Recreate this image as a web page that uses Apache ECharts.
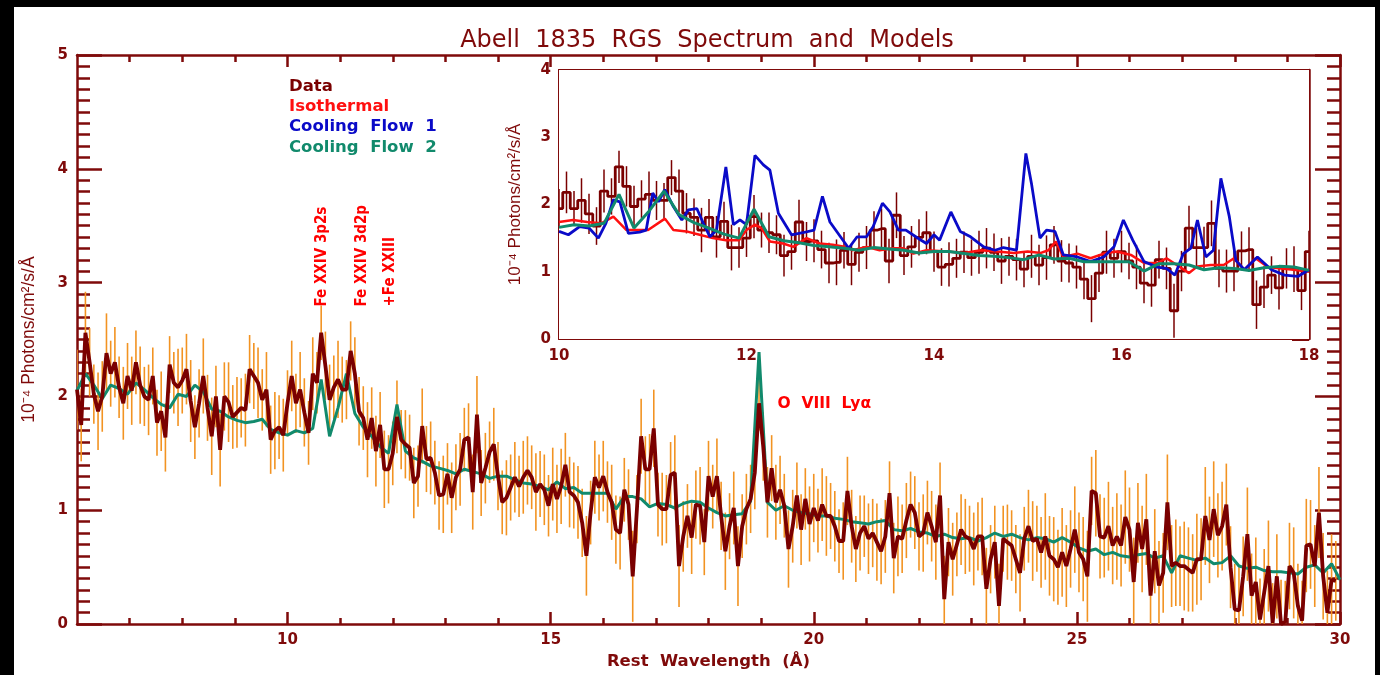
<!DOCTYPE html>
<html>
<head>
<meta charset="utf-8">
<title>Abell 1835 RGS Spectrum and Models</title>
<script src="https://cdn.jsdelivr.net/npm/echarts@6.0.0/dist/echarts.min.js"></script>
<style>
  html, body { margin: 0; padding: 0; background: #000; }
  #sheet { position: absolute; left: 14px; top: 7px; width: 1361px; height: 668px; background: #fff; }
  #chart { position: absolute; left: 0; top: 0; width: 1380px; height: 675px; }
</style>
</head>
<body>
<div id="sheet"></div>
<div id="chart"></div>
<script>
// ---- Spectrum bins (rest wavelength grid, Angstrom) ----
const binStart = 6.0;
const binWidth = 0.08;

// Observed flux per bin, 10^-4 photons/cm^2/s/A
const fluxData = [
  2.06, 1.75, 2.56, 2.30, 2.02, 1.87, 2.00, 2.38, 2.20, 2.30,
  2.08, 1.94, 2.18, 2.05, 2.30, 2.10, 2.00, 1.97, 2.18, 1.77,
  1.87, 1.64, 2.28, 2.12, 2.08, 2.14, 2.24, 1.96, 1.73, 1.94,
  2.18, 1.90, 1.65, 2.00, 1.53, 2.00, 1.95, 1.82, 1.86, 1.90,
  1.88, 2.24, 2.18, 2.12, 1.97, 2.06, 1.62, 1.70, 1.73, 1.66,
  1.94, 2.18, 1.94, 2.06, 1.86, 1.68, 2.20, 2.12, 2.56, 2.27,
  1.97, 2.08, 2.15, 2.06, 2.06, 2.40, 2.20, 1.87, 1.81, 1.62,
  1.81, 1.52, 1.75, 1.36, 1.36, 1.50, 1.82, 1.62, 1.58, 1.55,
  1.24, 1.30, 1.74, 1.45, 1.46, 1.33, 1.13, 1.14, 1.32, 1.11,
  1.29, 1.36, 1.62, 1.64, 1.16, 1.84, 1.24, 1.37, 1.51, 1.58,
  1.30, 1.07, 1.11, 1.20, 1.29, 1.21, 1.29, 1.35, 1.29, 1.16,
  1.23, 1.18, 1.04, 1.23, 1.10, 1.21, 1.40, 1.16, 1.13, 1.07,
  0.89, 0.60, 0.98, 1.29, 1.20, 1.30, 1.16, 1.07, 0.83, 0.80,
  1.18, 1.05, 0.42, 1.01, 1.65, 1.36, 1.36, 1.72, 1.05, 1.01,
  1.01, 1.31, 1.33, 0.51, 0.77, 0.95, 0.76, 1.05, 1.04, 0.72,
  1.30, 1.12, 1.30, 0.95, 0.64, 0.86, 1.02, 0.51, 0.86, 1.01,
  1.10, 1.33, 1.94, 1.56, 1.07, 1.37, 1.07, 1.18, 1.04, 0.66,
  0.86, 1.13, 0.83, 1.10, 0.88, 1.02, 0.91, 1.05, 0.95, 0.95,
  0.86, 0.73, 0.73, 1.17, 0.86, 0.66, 0.80, 0.86, 0.75, 0.80,
  0.72, 0.64, 0.77, 1.15, 0.58, 0.77, 0.75, 0.91, 1.05, 0.98,
  0.77, 0.80, 0.98, 0.86, 0.72, 1.13, 0.22, 0.72, 0.57, 0.70,
  0.83, 0.77, 0.75, 0.66, 0.77, 0.77, 0.31, 0.57, 0.72, 0.16,
  0.75, 0.72, 0.69, 0.57, 0.45, 0.75, 0.86, 0.73, 0.75, 0.63,
  0.77, 0.60, 0.57, 0.50, 0.63, 0.51, 0.66, 0.83, 0.63, 0.57,
  0.42, 1.17, 1.15, 0.77, 0.76, 0.86, 0.69, 0.77, 0.69, 0.94,
  0.83, 0.37, 0.89, 0.66, 0.92, 0.25, 0.64, 0.34, 0.45, 1.07,
  0.51, 0.54, 0.51, 0.51, 0.48, 0.45, 0.57, 0.57, 0.95, 0.74,
  1.01, 0.78, 0.86, 1.05, 0.50, 0.13, 0.12, 0.42, 0.79, 0.25,
  0.37, 0.04, 0.28, 0.51, 0.01, 0.42, 0.00, 0.02, 0.51, 0.45,
  0.16, 0.03, 0.69, 0.70, 0.51, 0.98, 0.42, 0.10, 0.39, 0.38
];

// 1-sigma uncertainty per bin
const fluxErr = [
  0.35, 0.32, 0.36, 0.30, 0.26, 0.34, 0.31, 0.35, 0.29, 0.31,
  0.27, 0.32, 0.29, 0.30, 0.28, 0.34, 0.26, 0.31, 0.25, 0.29,
  0.35, 0.30, 0.25, 0.27, 0.34, 0.29, 0.31, 0.36, 0.28, 0.30,
  0.33, 0.29, 0.34, 0.27, 0.32, 0.30, 0.35, 0.28, 0.31, 0.26,
  0.32, 0.30, 0.29, 0.31, 0.27, 0.33, 0.30, 0.34, 0.28, 0.32,
  0.29, 0.31, 0.26, 0.33, 0.30, 0.28, 0.32, 0.27, 0.24, 0.30,
  0.31, 0.28, 0.34, 0.29, 0.26, 0.26, 0.32, 0.30, 0.28, 0.33,
  0.27, 0.31, 0.29, 0.34, 0.30, 0.28, 0.32, 0.26, 0.30, 0.29,
  0.31, 0.27, 0.33, 0.29, 0.32, 0.28, 0.30, 0.34, 0.27, 0.31,
  0.29, 0.32, 0.28, 0.30, 0.33, 0.34, 0.29, 0.31, 0.27, 0.32,
  0.30, 0.28, 0.33, 0.29, 0.31, 0.27, 0.32, 0.30, 0.28, 0.34,
  0.29, 0.31, 0.27, 0.32, 0.30, 0.33, 0.28, 0.31, 0.29, 0.32,
  0.30, 0.35, 0.28, 0.32, 0.29, 0.31, 0.27, 0.33, 0.30, 0.32,
  0.28, 0.31, 0.40, 0.30, 0.33, 0.29, 0.31, 0.34, 0.28, 0.32,
  0.30, 0.29, 0.33, 0.36, 0.31, 0.28, 0.32, 0.30, 0.34, 0.29,
  0.31, 0.28, 0.33, 0.30, 0.34, 0.29, 0.32, 0.35, 0.28, 0.31,
  0.30, 0.32, 0.24, 0.30, 0.31, 0.29, 0.33, 0.30, 0.28, 0.34,
  0.32, 0.29, 0.31, 0.27, 0.33, 0.30, 0.28, 0.32, 0.35, 0.29,
  0.31, 0.28, 0.34, 0.30, 0.32, 0.29, 0.33, 0.27, 0.31, 0.30,
  0.34, 0.29, 0.32, 0.28, 0.31, 0.35, 0.30, 0.33, 0.29, 0.32,
  0.30, 0.34, 0.28, 0.31, 0.33, 0.29, 0.38, 0.30, 0.32, 0.28,
  0.31, 0.33, 0.29, 0.32, 0.30, 0.34, 0.36, 0.30, 0.32, 0.37,
  0.29, 0.33, 0.31, 0.30, 0.34, 0.28, 0.32, 0.35, 0.29, 0.31,
  0.38, 0.35, 0.37, 0.33, 0.39, 0.36, 0.34, 0.38, 0.35, 0.37,
  0.40, 0.30, 0.38, 0.37, 0.35, 0.39, 0.34, 0.38, 0.36, 0.41,
  0.37, 0.39, 0.35, 0.38, 0.40, 0.36, 0.37, 0.39, 0.35, 0.42,
  0.36, 0.38, 0.35, 0.39, 0.37, 0.34, 0.40, 0.36, 0.43, 0.38,
  0.42, 0.37, 0.39, 0.36, 0.36, 0.40, 0.38, 0.35, 0.41, 0.37,
  0.39, 0.36, 0.38, 0.40, 0.35, 0.37, 0.39, 0.36, 0.38, 0.40,
  0.37, 0.35, 0.41, 0.39, 0.36, 0.40, 0.38, 0.37, 0.40, 0.35
];

// ---- Cooling Flow 2 model, sampled every 0.16 A from 6 A ----
const cf2Start = 6.0;
const cf2Step = 0.16;
const cf2Flux = [
  2.05, 2.20, 2.10, 1.98, 2.10, 2.07, 2.02, 2.12, 2.06, 1.99,
  1.93, 1.90, 2.02, 2.00, 2.10, 2.04, 1.89, 1.87, 1.82, 1.79,
  1.77, 1.78, 1.80, 1.71, 1.68, 1.66, 1.70, 1.68, 1.72, 2.15,
  1.65, 1.90, 2.20, 1.85, 1.73, 1.65, 1.56, 1.50, 1.93, 1.52,
  1.46, 1.43, 1.39, 1.37, 1.35, 1.32, 1.36, 1.34, 1.32, 1.28,
  1.30, 1.30, 1.27, 1.24, 1.23, 1.21, 1.18, 1.25, 1.19, 1.20,
  1.15, 1.15, 1.15, 1.15, 1.01, 1.12, 1.12, 1.10, 1.03, 1.06,
  1.05, 1.02, 1.06, 1.08, 1.07, 1.02, 0.98, 0.95, 0.96, 0.97,
  1.08, 2.39, 1.07, 1.00, 1.04, 1.00, 0.98, 0.97, 0.95, 0.95,
  0.93, 0.92, 0.90, 0.89, 0.88, 0.90, 0.91, 0.83, 0.82, 0.84,
  0.81, 0.80, 0.77, 0.79, 0.76, 0.75, 0.76, 0.73, 0.76, 0.80,
  0.77, 0.79, 0.76, 0.74, 0.76, 0.75, 0.72, 0.76, 0.72, 0.67,
  0.64, 0.66, 0.61, 0.63, 0.60, 0.59, 0.61, 0.62, 0.58, 0.60,
  0.45, 0.60, 0.58, 0.56, 0.58, 0.53, 0.54, 0.60, 0.51, 0.49,
  0.50, 0.47, 0.46, 0.46, 0.45, 0.44, 0.50, 0.52, 0.45, 0.53,
  0.39
];

// ---- Isothermal model (10-18 A) ----
const isoWave = [
  10.00, 10.15, 10.30, 10.45, 10.58, 10.72, 10.85, 10.95, 11.13, 11.22,
  11.36, 11.50, 11.64, 11.78, 11.92, 12.00, 12.09, 12.16, 12.25, 12.39,
  12.50, 12.64, 12.78, 12.92, 13.06, 13.13, 13.28, 13.42, 13.56, 13.67,
  13.78, 13.92, 14.14, 14.32, 14.50, 14.67, 14.85, 15.00, 15.14, 15.22,
  15.30, 15.38, 15.53, 15.67, 15.81, 15.95, 16.10, 16.24, 16.38, 16.48,
  16.59, 16.72, 16.81, 16.95, 17.09, 17.20, 17.31, 17.43, 17.56, 17.70,
  17.84, 18.00
];
const isoFlux = [
  1.74, 1.77, 1.74, 1.72, 1.82, 1.62, 1.62, 1.62, 1.79, 1.62,
  1.60, 1.55, 1.50, 1.47, 1.47, 1.62, 1.70, 1.65, 1.45, 1.42,
  1.37, 1.50, 1.42, 1.40, 1.37, 1.32, 1.37, 1.32, 1.35, 1.35,
  1.27, 1.32, 1.30, 1.28, 1.32, 1.30, 1.28, 1.30, 1.28, 1.32,
  1.45, 1.22, 1.27, 1.20, 1.27, 1.30, 1.25, 1.13, 1.13, 1.20,
  1.10, 0.98, 1.08, 1.10, 1.10, 1.20, 1.03, 1.20, 1.07, 1.05,
  1.03, 1.00
];

// ---- Cooling Flow 1 model (10-18 A) ----
const cf1Wave = [
  10.00, 10.10, 10.22, 10.32, 10.42, 10.50, 10.58, 10.65, 10.74, 10.86,
  10.93, 11.00, 11.06, 11.13, 11.22, 11.31, 11.38, 11.47, 11.54, 11.61,
  11.68, 11.78, 11.86, 11.93, 12.00, 12.09, 12.18, 12.25, 12.34, 12.48,
  12.60, 12.72, 12.81, 12.89, 13.09, 13.18, 13.28, 13.35, 13.45, 13.53,
  13.62, 13.70, 13.85, 13.92, 14.00, 14.06, 14.18, 14.28, 14.39, 14.53,
  14.65, 14.74, 14.88, 14.98, 15.04, 15.13, 15.20, 15.29, 15.38, 15.53,
  15.67, 15.81, 15.92, 16.02, 16.12, 16.24, 16.38, 16.48, 16.57, 16.66,
  16.74, 16.81, 16.90, 16.98, 17.06, 17.15, 17.22, 17.31, 17.45, 17.60,
  17.74, 17.88, 18.00
];
const cf1Flux = [
  1.60, 1.55, 1.67, 1.65, 1.50, 1.72, 2.07, 2.04, 1.57, 1.59,
  1.62, 2.17, 2.04, 2.22, 1.97, 1.77, 1.92, 1.94, 1.72, 1.52,
  1.62, 2.56, 1.70, 1.77, 1.70, 2.73, 2.59, 2.51, 1.87, 1.55,
  1.58, 1.62, 2.12, 1.74, 1.35, 1.52, 1.52, 1.67, 2.02, 1.89,
  1.62, 1.62, 1.48, 1.42, 1.55, 1.47, 1.89, 1.60, 1.52, 1.37,
  1.32, 1.36, 1.32, 2.76, 2.31, 1.50, 1.62, 1.60, 1.25, 1.22,
  1.15, 1.22, 1.37, 1.77, 1.47, 1.15, 1.07, 1.05, 0.95, 1.27,
  1.35, 1.77, 1.22, 1.32, 2.39, 1.82, 1.17, 1.03, 1.22, 1.03,
  0.95, 0.93, 1.03
];

// ---- Axis ticks and labels ----
const mainXMajor = [10, 15, 20, 25, 30];
const mainXMinor = [7, 8, 9, 11, 12, 13, 14, 16, 17, 18, 19, 21, 22, 23, 24, 26, 27, 28, 29];
const insetXRange = [10, 18];

// ---- Line identifications ----
const lineNotes = ['Fe XXIV 3p2s', 'Fe XXIV 3d2p', '+Fe XXIII'];
const lineNoteWave = [10.66, 11.42, 11.95];
const lineNoteFlux = [2.79, 2.79, 2.79];
const oxygenNote = 'O  VIII  Ly\u03b1';
const oxygenWave = 19.31;
const oxygenFlux = 1.93;

const MAROON = '#7f0a0a';
const DATA_C = '#7a0000';
const ISO_C = '#ff1010';
const CF1_C = '#0a0ac8';
const CF2_C = '#118a6c';
const ERR_C = '#f29322';
const NOTE_C = '#ff0000';
const FONT = 'DejaVu Sans';
const YNAME = '10\u207b\u2074 Photons/cm\u00b2/s/\u00c5';

const wave = fluxData.map((_, i) => +(binStart + i * binWidth).toFixed(2));
const dataPts = wave.map((w, i) => [w, fluxData[i]]);
const errPts = wave.map((w, i) => [w, fluxData[i] - fluxErr[i], fluxData[i] + fluxErr[i]]);
const cf2Pts = cf2Flux.map((v, k) => [+(cf2Start + k * cf2Step).toFixed(2), v]);
const inInset = p => p[0] >= insetXRange[0] - 1e-6 && p[0] <= insetXRange[1] + 1e-6;

function errorBars(color, width) {
  return function (params, api) {
    const a = api.coord([api.value(0), api.value(1)]);
    const b = api.coord([api.value(0), api.value(2)]);
    return {
      type: 'line',
      shape: { x1: a[0], y1: a[1], x2: b[0], y2: b[1] },
      style: { stroke: color, lineWidth: width }
    };
  };
}

const tickStyle = w => ({ color: MAROON, width: w });
const hiddenLabel = { show: false };

const chart = echarts.init(document.getElementById('chart'), null, { renderer: 'canvas' });

chart.setOption({
  animation: false,
  backgroundColor: 'transparent',
  graphic: [{
    type: 'text', x: 707, y: 41, silent: true,
    style: {
      text: 'Abell  1835  RGS  Spectrum  and  Models',
      fill: MAROON, font: '24px "DejaVu Sans"',
      textAlign: 'center', textVerticalAlign: 'middle', align: 'center', verticalAlign: 'middle'
    }
  }],
  legend: {
    left: 279, top: 73, orient: 'vertical', icon: 'none', itemWidth: 0, itemHeight: 14, itemGap: 3.3,
    selectedMode: false,
    formatter: n => n.replace(/ /g, '  '),
    textStyle: { fontFamily: FONT, fontSize: 16.5, fontWeight: 'bold' },
    data: [
      { name: 'Data', textStyle: { color: DATA_C } },
      { name: 'Isothermal', textStyle: { color: ISO_C } },
      { name: 'Cooling Flow 1', textStyle: { color: CF1_C } },
      { name: 'Cooling Flow 2', textStyle: { color: CF2_C } }
    ]
  },
  grid: [
    { left: 77, top: 55, width: 1263, height: 570, show: false },
    { left: 559, top: 70, width: 750, height: 269, show: true, backgroundColor: '#fff', borderWidth: 0, z: 5 }
  ],
  xAxis: [
    { // 0: main bottom, major ticks + labels
      gridIndex: 0, type: 'value', position: 'bottom', min: 6, max: 30,
      axisLine: { show: true, onZero: false, lineStyle: { color: MAROON, width: 2.5 } },
      axisTick: { show: true, inside: true, length: 12, customValues: mainXMajor, lineStyle: tickStyle(2.5) },
      axisLabel: { show: true, customValues: mainXMajor, color: MAROON, fontFamily: FONT, fontWeight: 'bold', fontSize: 15, margin: 9 },
      splitLine: { show: false },
      name: 'Rest  Wavelength  (\u00c5)', nameLocation: 'middle', nameGap: 26,
      nameTextStyle: { color: MAROON, fontFamily: FONT, fontWeight: 'bold', fontSize: 16.5 }
    },
    { // 1: main bottom, minor ticks
      gridIndex: 0, type: 'value', position: 'bottom', min: 6, max: 30,
      axisLine: { show: false, onZero: false },
      axisTick: { show: true, inside: true, length: 6, customValues: mainXMinor, lineStyle: tickStyle(2.5) },
      axisLabel: hiddenLabel, splitLine: { show: false }
    },
    { // 2: main top, major ticks
      gridIndex: 0, type: 'value', position: 'top', min: 6, max: 30,
      axisLine: { show: true, onZero: false, lineStyle: { color: MAROON, width: 2.5 } },
      axisTick: { show: true, inside: true, length: 12, customValues: mainXMajor, lineStyle: tickStyle(2.5) },
      axisLabel: hiddenLabel, splitLine: { show: false }
    },
    { // 3: main top, minor ticks
      gridIndex: 0, type: 'value', position: 'top', min: 6, max: 30,
      axisLine: { show: false, onZero: false },
      axisTick: { show: true, inside: true, length: 7, customValues: mainXMinor, lineStyle: tickStyle(2.5) },
      axisLabel: hiddenLabel, splitLine: { show: false }
    },
    { // 4: inset bottom
      gridIndex: 1, type: 'value', position: 'bottom', min: insetXRange[0], max: insetXRange[1], interval: 2,
      axisLine: { show: true, onZero: false, lineStyle: { color: MAROON, width: 2 } },
      axisTick: { show: true, inside: true, length: 7, lineStyle: tickStyle(2) },
      minorTick: { show: true, splitNumber: 4, length: 4, lineStyle: tickStyle(2) },
      axisLabel: { show: true, color: MAROON, fontFamily: FONT, fontWeight: 'bold', fontSize: 15, margin: 10 },
      splitLine: { show: false }
    },
    { // 5: inset top
      gridIndex: 1, type: 'value', position: 'top', min: insetXRange[0], max: insetXRange[1], interval: 2,
      axisLine: { show: true, onZero: false, lineStyle: { color: MAROON, width: 2 } },
      axisTick: { show: true, inside: true, length: 7, lineStyle: tickStyle(2) },
      minorTick: { show: true, splitNumber: 4, length: 4, lineStyle: tickStyle(2) },
      axisLabel: hiddenLabel, splitLine: { show: false }
    }
  ],
  yAxis: [
    { // 0: main left
      gridIndex: 0, type: 'value', position: 'left', min: 0, max: 5, interval: 1,
      axisLine: { show: true, onZero: false, lineStyle: { color: MAROON, width: 2.5 } },
      axisTick: { show: true, inside: true, length: 25, lineStyle: tickStyle(2.5) },
      minorTick: { show: true, splitNumber: 10, length: 13, lineStyle: tickStyle(2.5) },
      axisLabel: { show: true, color: MAROON, fontFamily: FONT, fontWeight: 'bold', fontSize: 15, margin: 9 },
      splitLine: { show: false },
      name: YNAME, nameLocation: 'middle', nameGap: 39,
      nameTextStyle: { color: MAROON, fontFamily: 'Liberation Sans', fontSize: 17.5 }
    },
    { // 1: main right
      gridIndex: 0, type: 'value', position: 'right', min: 0, max: 5, interval: 1,
      axisLine: { show: true, onZero: false, lineStyle: { color: MAROON, width: 2.5 } },
      axisTick: { show: true, inside: true, length: 25, lineStyle: tickStyle(2.5) },
      minorTick: { show: true, splitNumber: 10, length: 13, lineStyle: tickStyle(2.5) },
      axisLabel: hiddenLabel, splitLine: { show: false }
    },
    { // 2: inset left
      gridIndex: 1, type: 'value', position: 'left', min: 0, max: 4, interval: 1,
      axisLine: { show: true, onZero: false, lineStyle: { color: MAROON, width: 2 } },
      axisTick: { show: true, inside: true, length: 14, lineStyle: tickStyle(2) },
      minorTick: { show: true, splitNumber: 10, length: 7, lineStyle: tickStyle(2) },
      axisLabel: { show: true, color: MAROON, fontFamily: FONT, fontWeight: 'bold', fontSize: 15, margin: 8 },
      splitLine: { show: false },
      name: YNAME, nameLocation: 'middle', nameGap: 35,
      nameTextStyle: { color: MAROON, fontFamily: 'Liberation Sans', fontSize: 17 }
    },
    { // 3: inset right
      gridIndex: 1, type: 'value', position: 'right', min: 0, max: 4, interval: 1,
      axisLine: { show: true, onZero: false, lineStyle: { color: MAROON, width: 2.5 } },
      axisTick: { show: true, inside: true, length: 17, lineStyle: tickStyle(3) },
      minorTick: { show: true, splitNumber: 10, length: 8, lineStyle: tickStyle(3) },
      axisLabel: hiddenLabel, splitLine: { show: false }
    }
  ],
  series: [
    // ----- main panel -----
    {
      type: 'custom', name: 'errMain', xAxisIndex: 0, yAxisIndex: 0, clip: true, silent: true, z: 2,
      renderItem: errorBars(ERR_C, 1.6), encode: { x: 0, y: [1, 2] }, data: errPts
    },
    {
      type: 'line', name: 'Cooling Flow 2', xAxisIndex: 0, yAxisIndex: 0, clip: true, z: 3,
      showSymbol: false, symbol: 'none', data: cf2Pts,
      lineStyle: { color: CF2_C, width: 3 }, itemStyle: { color: CF2_C }
    },
    {
      type: 'line', name: 'Data', xAxisIndex: 0, yAxisIndex: 0, clip: true, z: 4,
      showSymbol: false, symbol: 'none', data: dataPts,
      lineStyle: { color: DATA_C, width: 3.8 }, itemStyle: { color: DATA_C }
    },
    {
      type: 'scatter', name: 'notes', xAxisIndex: 0, yAxisIndex: 0, symbolSize: 0, silent: true, z: 6,
      itemStyle: { opacity: 1, color: NOTE_C },
      data: lineNotes.map((t, i) => ({ name: t, value: [lineNoteWave[i], lineNoteFlux[i]] }))
        .concat([{ name: oxygenNote, value: [oxygenWave, oxygenFlux],
          label: { rotate: 0, fontFamily: FONT, fontSize: 15.5, fontWeight: 'bold' } }]),
      label: {
        show: true, formatter: '{b}', position: 'inside', rotate: 90, align: 'left', verticalAlign: 'middle',
        color: NOTE_C, opacity: 1, fontFamily: '"Liberation Sans Narrow", "DejaVu Sans Condensed", sans-serif',
        fontWeight: 'bold', fontSize: 15
      }
    },
    // ----- inset panel -----
    {
      type: 'custom', name: 'errInset', xAxisIndex: 4, yAxisIndex: 2, clip: true, silent: true, z: 6,
      renderItem: errorBars(DATA_C, 1.5), encode: { x: 0, y: [1, 2] }, data: errPts.filter(inInset)
    },
    {
      type: 'line', name: 'Data', xAxisIndex: 4, yAxisIndex: 2, clip: true, z: 7, step: 'middle',
      showSymbol: false, symbol: 'none', data: dataPts.filter(inInset),
      lineStyle: { color: DATA_C, width: 2.8 }, itemStyle: { color: DATA_C }
    },
    {
      type: 'line', name: 'Isothermal', xAxisIndex: 4, yAxisIndex: 2, clip: true, z: 8,
      showSymbol: false, symbol: 'none', data: isoWave.map((w, i) => [w, isoFlux[i]]),
      lineStyle: { color: ISO_C, width: 2.5 }, itemStyle: { color: ISO_C }
    },
    {
      type: 'line', name: 'Cooling Flow 1', xAxisIndex: 4, yAxisIndex: 2, clip: true, z: 9,
      showSymbol: false, symbol: 'none', data: cf1Wave.map((w, i) => [w, cf1Flux[i]]),
      lineStyle: { color: CF1_C, width: 2.8 }, itemStyle: { color: CF1_C }
    },
    {
      type: 'line', name: 'Cooling Flow 2', xAxisIndex: 4, yAxisIndex: 2, clip: true, z: 10,
      showSymbol: false, symbol: 'none', data: cf2Pts.filter(inInset),
      lineStyle: { color: CF2_C, width: 3 }, itemStyle: { color: CF2_C }
    }
  ]
});
</script>
</body>
</html>
